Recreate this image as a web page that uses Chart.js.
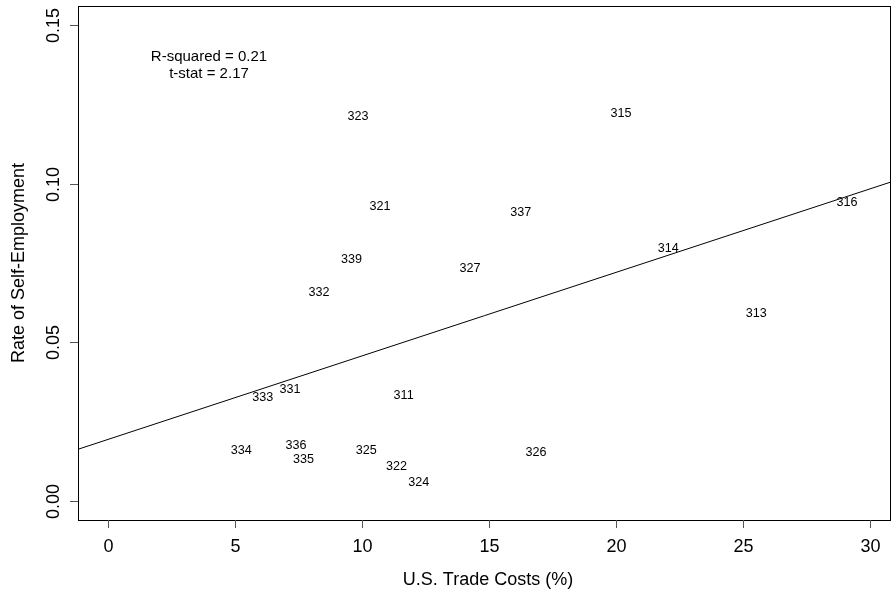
<!DOCTYPE html>
<html>
<head>
<meta charset="utf-8">
<script src="https://cdn.jsdelivr.net/npm/chart.js@4.4.0/dist/chart.umd.min.js"></script>
<style>
  body { margin: 0; background: #fff; }
  #wrap { width: 891px; height: 593px; }
</style>
</head>
<body>
<div id="wrap"><canvas id="tradeChart" width="891" height="593"></canvas></div>
<script>
// industry codes (NAICS) and values
const industries = ['323', '315', '321', '337', '339', '327', '332', '316', '314', '313',
                    '333', '331', '311', '334', '336', '335', '325', '322', '324', '326'];
const tradeCosts = [9.84, 20.2, 10.71, 16.25, 9.59, 14.25, 8.31, 29.1, 22.06, 25.52,
                    6.09, 7.17, 11.64, 5.25, 7.40, 7.70, 10.17, 11.36, 12.24, 16.85];
const selfEmp = [0.1217, 0.1225, 0.0933, 0.0912, 0.0765, 0.0737, 0.0659, 0.0945, 0.0800, 0.0593,
                 0.0329, 0.0354, 0.0337, 0.0163, 0.0179, 0.0135, 0.0161, 0.0112, 0.0061, 0.0157];

// fitted line end points
const fitX = [-1.18, 30.83];
const fitY = [0.0163, 0.1006];

const xTicks = [0, 5, 10, 15, 20, 25, 30];
const yTicks = [0, 0.05, 0.10, 0.15];
const yTickLabels = ['0.00', '0.05', '0.10', '0.15'];

const FONT = '"Liberation Sans", Arial, Helvetica, sans-serif';

// draws the R-style box, ticks, labels and text
const rStyle = {
  id: 'rStyle',
  afterDatasetsDraw(chart) {
    const c = chart.ctx;
    const a = chart.chartArea;
    const xs = chart.scales.x, ys = chart.scales.y;
    c.save();

    // point labels
    c.fillStyle = '#000';
    c.font = '12.6px ' + FONT;
    c.textAlign = 'center';
    c.textBaseline = 'middle';
    industries.forEach((lab, i) => {
      c.fillText(lab, xs.getPixelForValue(tradeCosts[i]), ys.getPixelForValue(selfEmp[i]) + 1);
    });

    // box
    c.strokeStyle = '#000';
    c.lineWidth = 1;
    c.strokeRect(Math.round(a.left) + 0.5, Math.round(a.top) + 0.5,
                 Math.round(a.right - a.left) - 1, Math.round(a.bottom - a.top));

    // x ticks
    c.strokeStyle = '#555';
    c.font = '18px ' + FONT;
    c.textBaseline = 'middle';
    xTicks.forEach(t => {
      const px = Math.round(xs.getPixelForValue(t)) + 0.5;
      c.beginPath();
      c.moveTo(px, a.bottom);
      c.lineTo(px, a.bottom + 8);
      c.stroke();
      c.fillText(String(t), px, a.bottom + 27);
    });

    // y ticks, rotated labels
    yTicks.forEach((t, i) => {
      const py = Math.round(ys.getPixelForValue(t)) + 0.5;
      c.beginPath();
      c.moveTo(a.left, py);
      c.lineTo(a.left - 8, py);
      c.stroke();
      c.save();
      c.translate(a.left - 24, py);
      c.rotate(-Math.PI / 2);
      c.fillText(yTickLabels[i], 0, 0);
      c.restore();
    });

    // axis titles
    c.fillText('U.S. Trade Costs (%)', 488, 580);
    c.save();
    c.translate(19, 263);
    c.rotate(-Math.PI / 2);
    c.fillText('Rate of Self-Employment', 0, 0);
    c.restore();

    // stats text
    c.font = '15px ' + FONT;
    c.fillText('R-squared = 0.21', 209, 57);
    c.fillText('t-stat = 2.17', 209, 74);

    c.restore();
  }
};

const ctx = document.getElementById('tradeChart').getContext('2d');
const chart = new Chart(ctx, {
  type: 'scatter',
  data: {
    datasets: [
      {
        label: 'industries',
        data: tradeCosts.map((x, i) => ({ x: x, y: selfEmp[i] })),
        pointRadius: 0,
        pointHoverRadius: 0
      },
      {
        type: 'line',
        label: 'fit',
        data: fitX.map((x, i) => ({ x: x, y: fitY[i] })),
        borderColor: '#000',
        borderWidth: 1,
        pointRadius: 0,
        fill: false
      }
    ]
  },
  options: {
    responsive: false,
    animation: false,
    devicePixelRatio: 1,
    layout: { padding: { left: 70, top: 6, right: 0, bottom: 65 } },
    plugins: {
      legend: { display: false },
      tooltip: { enabled: false },
      title: { display: false }
    },
    scales: {
      x: {
        type: 'linear',
        min: -1.18,
        max: 30.83,
        grid: { display: false },
        border: { display: false },
        ticks: { display: false }
      },
      y: {
        type: 'linear',
        min: -0.006,
        max: 0.1561,
        grid: { display: false },
        border: { display: false },
        ticks: { display: false }
      }
    }
  },
  plugins: [rStyle]
});
</script>
</body>
</html>
